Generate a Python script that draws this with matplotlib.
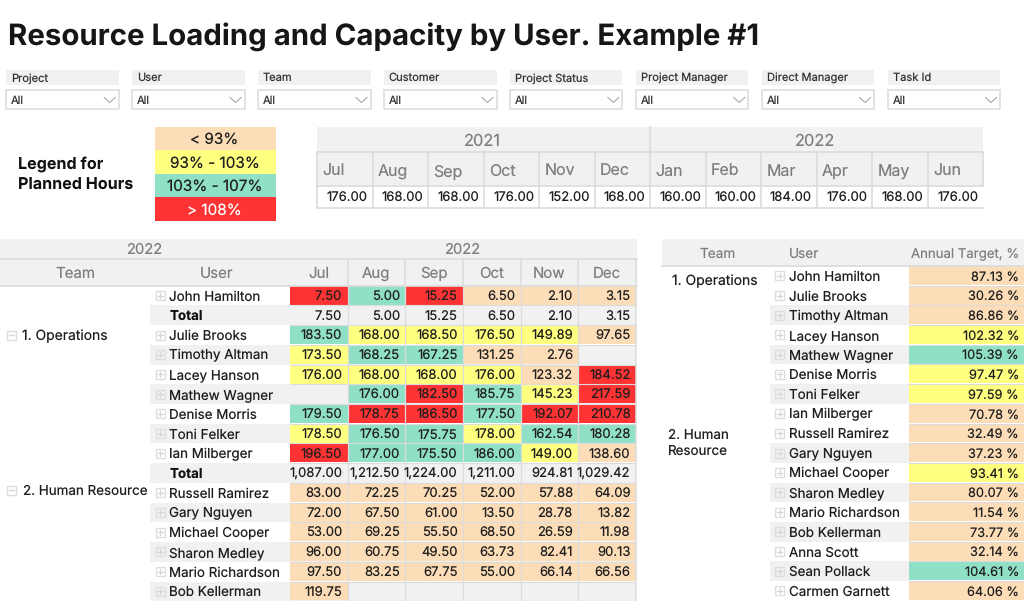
import matplotlib
matplotlib.use("Agg")
import matplotlib.pyplot as plt
from matplotlib.patches import Rectangle

plt.rcParams['font.family'] = ['Inter', 'DejaVu Sans']
plt.rcParams['text.hinting'] = 'no_hinting'

TITLE = "Resource Loading and Capacity by User. Example #1"
filters = ["Project", "User", "Team", "Customer", "Project Status", "Project Manager", "Direct Manager", "Task Id"]
legend_labels = ["< 93%", "93% - 103%", "103% - 107%", "> 108%"]
legend_codes = ["O", "Y", "G", "R"]

cap_months = ["Jul", "Aug", "Sep", "Oct", "Nov", "Dec", "Jan", "Feb", "Mar", "Apr", "May", "Jun"]
cap_values = [176, 168, 168, 176, 152, 168, 160, 160, 184, 176, 168, 176]

load_months = ["Jul", "Aug", "Sep", "Oct", "Now", "Dec"]
load_users = ["John Hamilton", "Total", "Julie Brooks", "Timothy Altman", "Lacey Hanson", "Mathew Wagner",
              "Denise Morris", "Toni Felker", "Ian Milberger", "Total", "Russell Ramirez", "Gary Nguyen",
              "Michael Cooper", "Sharon Medley", "Mario Richardson", "Bob Kellerman"]
load_values = [
    [7.50, 5.00, 15.25, 6.50, 2.10, 3.15],
    [7.50, 5.00, 15.25, 6.50, 2.10, 3.15],
    [183.50, 168.00, 168.50, 176.50, 149.89, 97.65],
    [173.50, 168.25, 167.25, 131.25, 2.76, None],
    [176.00, 168.00, 168.00, 176.00, 123.32, 184.52],
    [None, 176.00, 182.50, 185.75, 145.23, 217.59],
    [179.50, 178.75, 186.50, 177.50, 192.07, 210.78],
    [178.50, 176.50, 175.75, 178.00, 162.54, 180.28],
    [196.50, 177.00, 175.50, 186.00, 149.00, 138.60],
    [1087.00, 1212.50, 1224.00, 1211.00, 924.81, 1029.42],
    [83.00, 72.25, 70.25, 52.00, 57.88, 64.09],
    [72.00, 67.50, 61.00, 13.50, 28.78, 13.82],
    [53.00, 69.25, 55.50, 68.50, 26.59, 11.98],
    [96.00, 60.75, 49.50, 63.73, 82.41, 90.13],
    [97.50, 83.25, 67.75, 55.00, 66.14, 66.56],
    [119.75, None, None, None, None, None],
]
load_codes = ["RGROOO", "------", "GYYYYO", "YGGOO-", "YYYYOR", "-GRGYR", "GRRGRR", "YGGYGG",
              "RGGGYO", "------", "OOOOOO", "OOOOOO", "OOOOOO", "OOOOOO", "OOOOOO", "O-----"]

target_users = ["John Hamilton", "Julie Brooks", "Timothy Altman", "Lacey Hanson", "Mathew Wagner", "Denise Morris",
                "Toni Felker", "Ian Milberger", "Russell Ramirez", "Gary Nguyen", "Michael Cooper", "Sharon Medley",
                "Mario Richardson", "Bob Kellerman", "Anna Scott", "Sean Pollack", "Carmen Garnett"]
target_values = [87.13, 30.26, 86.86, 102.32, 105.39, 97.47, 97.59, 70.78, 32.49, 37.23, 93.41, 80.07,
                 11.54, 73.77, 32.14, 104.61, 64.06]
target_codes = "OOOYGYYOOOYOOOOGO"
target_zebra = [0, 0, 1, 0, 1, 0, 1, 0, 0, 1, 0, 1, 0, 1, 0, 1, 0]

COL = {"O": "#FDDDB8", "Y": "#FFFF80", "G": "#8FE0C6", "R": "#FF3333", "-": None}
GRAY = "#F1F1F1"
LINE = "#DCDCDC"
HEAD = "#7F7F7F"
DARK = "#1E1E1E"
NAME = 9.65

fig = plt.figure(figsize=(10.24, 6.01), dpi=100)
ax = fig.add_axes([0, 0, 1, 1])
ax.set_xlim(0, 1024)
ax.set_ylim(601, 0)
ax.axis("off")


def box(x, y, w, h, fc, ec="none", lw=0.0, z=1):
    ax.add_patch(Rectangle((x, y), w, h, facecolor=fc, edgecolor=ec, linewidth=lw, zorder=z))


def txt(x, y, s, size=NAME, c=DARK, ha="left", w="normal"):
    # y is the middle of the capital letters; Inter's cap height is 0.727 em
    base = y + 0.3636 * size * 100 / 72
    ax.text(x, base, s, fontsize=size, color=c, ha=ha, va="baseline", fontweight=w, zorder=5)


def plus(x, y, minus=False):
    box(x - 4.5, y - 4.5, 9, 9, "none", "#DEDEDE", 1.0, 3)
    ax.plot([x - 2.5, x + 2.5], [y, y], color="#D6D6D6", lw=0.9, zorder=3)
    if not minus:
        ax.plot([x, x], [y - 2.5, y + 2.5], color="#D6D6D6", lw=0.9, zorder=3)


# title
txt(8, 34, TITLE, size=21.2, c="#161616", w="bold")

# slicers
FX0, FSTEP, FW = 6.2, 125.9, 112.6
for i, name in enumerate(filters):
    x = FX0 + i * FSTEP
    box(x, 70, FW, 14.5, GRAY)
    txt(x + 5, 77.3, name, size=8.0, c="#333333")
    box(x, 90, FW, 18.8, "white", "#E0E0E0", 1.3)
    txt(x + 5, 100, "All", size=8.0, c="#333333")
    ax.plot([x + 98, x + 103.5, x + 109], [97.5, 102.5, 97.5], color="#A8A8A8", lw=0.8, zorder=3)

# legend
txt(18, 163, "Legend for", size=11.6, c="#111111", w="bold")
txt(18, 184, "Planned Hours", size=11.6, c="#111111", w="bold")
LY = [127, 150.3, 173.6, 197, 221]
for i, (lab, code) in enumerate(zip(legend_labels, legend_codes)):
    box(155, LY[i], 121, LY[i + 1] - LY[i], COL[code])
    txt(214.5, (LY[i] + LY[i + 1]) / 2, lab, size=11, ha="center", c="white" if code == "R" else DARK)

# capacity table
CX0, CW = 317.0, 55.5
box(CX0, 127, CW * 12, 25, GRAY)
box(CX0, 152, CW * 12, 33.5, GRAY)
txt(482, 140, "2021", size=11.8, c=HEAD, ha="center")
txt(815.5, 140, "2022", size=11.8, c=HEAD, ha="center")
ax.plot([CX0, CX0 + CW * 12], [152, 152], color=LINE, lw=1.2, zorder=3)
ax.plot([CX0, CX0 + CW * 12], [185.5, 185.5], color=LINE, lw=1.2, zorder=3)
ax.plot([CX0, CX0 + CW * 12], [207.5, 207.5], color=LINE, lw=1.2, zorder=3)
ax.plot([CX0 + 6 * CW] * 2, [127, 152], color=LINE, lw=1.2, zorder=3)
for i in range(13):
    ax.plot([CX0 + i * CW] * 2, [152, 185.5 if i == 12 else 207.5], color=LINE, lw=1.2, zorder=3)
for i, (m, v) in enumerate(zip(cap_months, cap_values)):
    txt(CX0 + i * CW + 5.5, 170.5, m, size=11.5, c=HEAD)
    txt(CX0 + (i + 1) * CW - 4.5, 197, f"{v:.2f}", size=9.4, c=DARK, ha="right")

# loading table
RH = 19.72
RY0 = 285.7
MX0, MW = 290.0, 57.67
box(0, 239, 636.5, 19, GRAY)
box(0, 259, 636.5, 26.5, GRAY)
ax.plot([0, 636.5], [258.5, 258.5], color=LINE, lw=1.3, zorder=3)
ax.plot([0, 636.5], [285.7, 285.7], color=LINE, lw=1.3, zorder=3)
txt(144, 248.5, "2022", size=10.6, c=HEAD, ha="center")
txt(461.7, 248.5, "2022", size=10.6, c=HEAD, ha="center")
txt(75.7, 272.7, "Team", size=10.8, c=HEAD, ha="center")
txt(217, 272.7, "User", size=10.8, c=HEAD, ha="center")
for j, m in enumerate(load_months):
    txt(MX0 + (j + 0.5) * MW, 272.7, m, size=10.8, c=HEAD, ha="center")
    if j:
        ax.plot([MX0 + j * MW] * 2, [259, 285.7], color=LINE, lw=1.1, zorder=3)
ax.plot([MX0 + 6 * MW] * 2, [259, 601], color=LINE, lw=1.1, zorder=3)
for i, u in enumerate(load_users):
    y = RY0 + i * RH
    cy = y + RH / 2
    if i % 2 == 1:
        box(150, y, MX0 + 6 * MW - 150, RH, GRAY)
    if u == "Total":
        txt(170, cy, u, c="#111111", w="bold")
    else:
        plus(160, cy)
        txt(169, cy, u)
    for j, v in enumerate(load_values[i]):
        code = load_codes[i][j]
        if code != "-":
            box(MX0 + j * MW, y, MW, RH - 0.8, COL[code], z=2)
        if j:
            ax.plot([MX0 + j * MW] * 2, [y, y + RH], color=LINE, lw=0.9, zorder=3)
        ax.plot([MX0 + j * MW, MX0 + (j + 1) * MW], [y + RH] * 2, color=LINE, lw=0.8, zorder=3)
        if v is not None:
            txt(MX0 + (j + 1) * MW - 5.5, cy + 0.4, f"{v:,.2f}", size=9.4, ha="right")
plus(11, 335, True)
txt(22, 335, "1. Operations", size=10.0)
plus(11, 490, True)
txt(23, 490, "2. Human Resource", size=NAME)

# target table
box(662, 239, 362, 26.5, GRAY)
ax.plot([662, 1024], [265.7, 265.7], color=LINE, lw=1.3, zorder=3)
txt(717.5, 252.7, "Team", size=9.8, c=HEAD, ha="center")
txt(789, 252.7, "User", size=9.8, c=HEAD)
txt(1019, 252.7, "Annual Target, %", size=9.5, c=HEAD, ha="right")
TY0, TH = 266.0, 19.69
for i, u in enumerate(target_users):
    y = TY0 + i * TH
    cy = y + TH / 2
    if target_zebra[i]:
        box(770, y, 140, TH, GRAY)
    plus(779.5, cy)
    txt(789, cy, u)
    box(909, y, 115, TH - 0.8, COL[target_codes[i]], z=2)
    ax.plot([909, 1024], [y + TH] * 2, color=LINE, lw=0.8, zorder=3)
    txt(1019, cy, f"{target_values[i]:.2f} %", size=9.2, ha="right")
txt(672, 280, "1. Operations", size=10.0)
txt(668, 433.5, "2. Human", size=9.65)
txt(668, 449.5, "Resource", size=9.65)

fig.savefig("out.png", dpi=100)
